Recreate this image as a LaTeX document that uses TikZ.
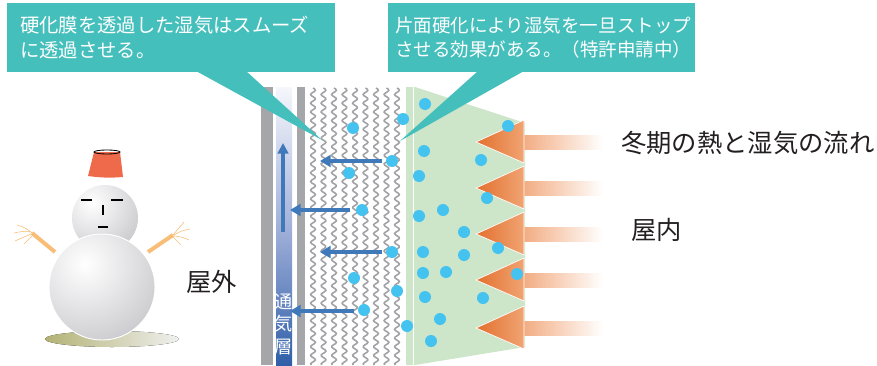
\documentclass[tikz,border=0pt]{standalone}
\usepackage{fontspec}
\setmainfont{Noto Sans CJK JP}
\usetikzlibrary{arrows.meta,positioning}

\definecolor{calloutteal}{HTML}{45BFBC}
\definecolor{wallgray}{HTML}{A5A6A9}
\definecolor{fibregray}{HTML}{A2A2A6}
\definecolor{membrane}{HTML}{CDE5C9}
\definecolor{moisture}{HTML}{45C3F0}
\definecolor{vapourblue}{HTML}{3F79BA}
\definecolor{ventdark}{HTML}{2F5FA8}
\definecolor{ventmid}{HTML}{A3B1DA}
\definecolor{ventlight}{HTML}{F6F7FC}
\definecolor{heatdark}{HTML}{E4702F}
\definecolor{heatmid}{HTML}{F0A473}
\definecolor{heatlight}{HTML}{F2AC82}
\definecolor{hatred}{HTML}{EE6A4B}
\definecolor{armorange}{HTML}{F8BE78}
\definecolor{snowshade}{HTML}{CBCBCF}
\definecolor{labelink}{HTML}{231F20}

\tikzset{
  callout/.style={fill=calloutteal, text=white, anchor=north west, align=left,
    inner ysep=0pt, font=\fontsize{16.5}{21.5}\selectfont},
  roomlabel/.style={text=labelink, inner sep=0pt, font=\fontsize{21.6}{24}\selectfont},
  fibre/.style={draw=fibregray, line width=1.35pt},
  vapour/.style={draw=vapourblue, line width=3.2pt,
    -{Triangle[width=10pt,length=9pt]}},
  droplet/.style={fill=moisture},
  face/.style={draw=black, line width=1.4pt},
}

\begin{document}
\begin{tikzpicture}[x=0.03cm, y=-0.03cm]
\useasboundingbox (0,0) rectangle (877,365);

% snowman
\fill[left color=gray!60!olive!60, right color=gray!12] (112,339) ellipse [x radius=2.01cm, y radius=0.24cm];
\begin{scope}
  \clip (105,218) circle (0.99cm);
  \shade[inner color=white, outer color=snowshade] (92,203) circle (1.6cm);
\end{scope}
\begin{scope}
  \clip (102,287) circle (1.59cm);
  \shade[inner color=white, outer color=snowshade] (85,264) circle (2.5cm);
\end{scope}
\draw[white, line width=0.8pt] (102,287) circle (1.59cm);
\fill[hatred] (94,152) -- (120,152) -- (123,177) to[bend left=6] (88,176) -- cycle;
\draw[black, line width=0.7pt] (107,152) ellipse [x radius=0.39cm, y radius=0.06cm];
\draw[face] (81,200) -- (92,200) (111,200) -- (123,200);
\draw[face] (103,205) -- (103,215);
\draw[face] (98,227) -- (108,227);
\draw[armorange, line width=3.4pt] (55,252) -- (32,233);
\draw[armorange, line width=3.4pt] (148,252) -- (173,235);
\draw[armorange, line width=0.5pt]
  (32,233) .. controls (26,228) .. (17,225)
  (31,232) .. controls (24,231) .. (14,233)
  (31,234) .. controls (24,237) .. (15,241)
  (33,235) .. controls (28,240) .. (24,244)
  (173,235) .. controls (178,229) .. (184,222)
  (174,235) .. controls (181,231) .. (190,229)
  (174,236) .. controls (182,237) .. (189,240)
  (173,237) .. controls (177,241) .. (181,245);
\node[roomlabel, anchor=west] (outdoor) at (186,282) {屋外};

% wall layers
\fill[wallgray] (261,87) rectangle (273,365);
\shade[top color=ventlight, bottom color=ventdark, middle color=ventmid] (276,87) rectangle (292,365);
\fill[wallgray] (297,87) rectangle (305,365);
\foreach \fx in {313,323.5,334,344.5,355,365.5,376,386.5,397}
  \draw[fibre] plot[domain=0:277, samples=220, smooth] ({\fx+2.4*sin(\x*41.4)},{88+\x});
\fill[membrane] (406,87) -- (415,87) -- (525,123) -- (525,347) -- (415,365) -- (406,365) -- cycle;
\draw[white, line width=1.2pt] (413.5,87) -- (413.5,365);

% airflow in the vent layer
\coordinate (ventlow) at (283,232);
\coordinate (venthigh) at (283,143);
\draw[vapourblue, line width=2.6pt, -{Triangle[width=9pt,length=9pt]}] (ventlow) -- (venthigh);
\node[text=white, align=center, inner sep=0pt, anchor=north,
  font=\fontsize{15.5}{19.5}\selectfont] (ventlayer) at (284,293) {通\\気\\層};

% heat flow from indoors
\foreach \ay [count=\k] in {142,188,234,280,328} {
  \shade[left color=heatlight, right color=white] (523,\ay-7) rectangle (603,\ay+7);
  \shade[left color=heatdark, right color=heatmid, draw=white, line width=0.6pt]
    (476,\ay) -- (524,\ay-22) -- (524,\ay+21) -- cycle;
}

% vapour passing through
\foreach \sx/\ex/\ay [count=\k] in {382/320/161, 350/290/210, 382/320/252, 354/290/311} {
  \coordinate (vap\k a) at (\sx,\ay);
  \coordinate (vap\k b) at (\ex,\ay);
  \draw[vapour] (vap\k a) -- (vap\k b);
}

% moisture
\foreach \dx/\dy in {353/128, 403/119, 425/104, 392/161, 349/173, 424/151, 419/176,
    362/210, 443/210, 419/216, 392/252, 423/252, 354/278, 423/273, 446/272,
    397/291, 425/297, 364/310, 440/319, 407/326, 431/341, 508/126, 481/160,
    487/198, 464/232, 498/248, 464/255, 517/274, 483/298}
  \fill[droplet] (\dx,\dy) circle (0.18cm);

\node[roomlabel, anchor=west] (winterflow) at (621,143) {冬期の熱と湿気の流れ};
\node[roomlabel, anchor=west] (indoor) at (631,230) {屋内};

% callouts
\node[callout, minimum width=9.84cm, minimum height=2.07cm, text width=9.06cm,
  inner xsep=0.39cm] (permeable) at (7,3) {硬化膜を透過した湿気はスムーズ\\に透過させる。};
\coordinate (permeabletip) at (322,140);
\fill[calloutteal] (196,71) -- (246,71) -- (permeabletip) -- cycle;

\node[callout, minimum width=9.21cm, minimum height=2.07cm, text width=8.79cm,
  inner xsep=0.21cm, font=\fontsize{15.8}{21}\selectfont] (stopper) at (388,3)
  {片面硬化により湿気を一旦ストップ\\させる効果がある。（特許申請中）};
\coordinate (stoppertip) at (400,141);
\fill[calloutteal] (478,71) -- (524,71) -- (stoppertip) -- cycle;
\end{tikzpicture}
\end{document}
